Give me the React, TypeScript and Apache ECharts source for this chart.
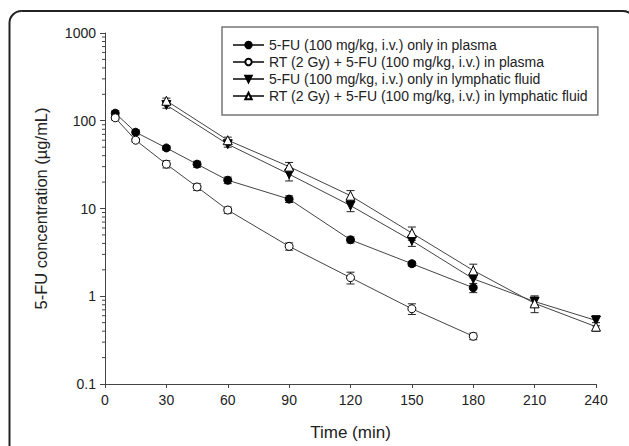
import React, { useEffect, useRef } from "react";
import * as echarts from "echarts";

const seriesNames = [
  "5-FU (100 mg/kg, i.v.) only in plasma",
  "RT (2 Gy) + 5-FU (100 mg/kg, i.v.) in plasma",
  "5-FU (100 mg/kg, i.v.) only in lymphatic fluid",
  "RT (2 Gy) + 5-FU (100 mg/kg, i.v.) in lymphatic fluid",
];

const timePlasma = [5, 15, 30, 45, 60, 90, 120, 150, 180];
const plasma5FU = [122, 74, 49, 32, 21, 12.8, 4.4, 2.35, 1.25];
const plasma5FUErr = [8, 5, 3, 2.5, 1.8, 1.1, 0.35, 0.15, 0.15];
const plasmaRT = [108, 60, 32, 17.6, 9.6, 3.7, 1.63, 0.72, 0.35];
const plasmaRTErr = [6, 3, 3, 1.5, 0.8, 0.35, 0.25, 0.1, 0.03];

const timeLymph = [30, 60, 90, 120, 150, 180, 210, 240];
const lymph5FU = [151, 54, 24.6, 10.8, 4.3, 1.58, 0.87, 0.53];
const lymph5FUErr = [12, 4, 4, 1.6, 0.6, 0.25, 0.08, 0.07];
const lymphRT = [169, 60, 30, 14, 5.25, 1.97, 0.83, 0.45];
const lymphRTErr = [12, 5, 3.5, 2, 0.9, 0.35, 0.18, 0.05];

const xTicks = [0, 30, 60, 90, 120, 150, 180, 210, 240];
const yMinorTicks = [
  0.2, 0.3, 0.4, 0.5, 0.6, 0.7, 0.8, 0.9,
  2, 3, 4, 5, 6, 7, 8, 9,
  20, 30, 40, 50, 60, 70, 80, 90,
  200, 300, 400, 500, 600, 700, 800, 900,
];

const FONT = "Liberation Sans, Arial, sans-serif";

function pairs(xs: number[], ys: number[]) {
  return xs.map((x, i) => [x, ys[i]]);
}
function errs(xs: number[], ys: number[], es: number[]) {
  return xs.map((x, i) => [x, ys[i] - es[i], ys[i] + es[i]]);
}

export default function App() {
  const ref = useRef<HTMLDivElement>(null);
  useEffect(() => {
    document.body.style.margin = "0";
    const chart = echarts.init(ref.current!, null, { renderer: "svg" });

    const lineColor = "#444";
    const errRender = (params: any, api: any) => {
      const x = api.value(0);
      const p1 = api.coord([x, api.value(1)]);
      const p2 = api.coord([x, api.value(2)]);
      const cw = 4;
      const st = { stroke: "#222", lineWidth: 1 };
      return {
        type: "group",
        children: [
          { type: "line", shape: { x1: p1[0], y1: p1[1], x2: p2[0], y2: p2[1] }, style: st },
          { type: "line", shape: { x1: p1[0] - cw, y1: p1[1], x2: p1[0] + cw, y2: p1[1] }, style: st },
          { type: "line", shape: { x1: p2[0] - cw, y1: p2[1], x2: p2[0] + cw, y2: p2[1] }, style: st },
        ],
      };
    };
    const minorRender = (params: any, api: any) => {
      const p = api.coord([api.value(0), api.value(1)]);
      return {
        type: "line",
        shape: { x1: p[0] - 3, y1: p[1], x2: p[0], y2: p[1] },
        style: { stroke: "#444", lineWidth: 1 },
      };
    };

    const lineSeries = (name: string, data: number[][], symbol: string, fill: string, rotate: number, size: number) => ({
      type: "line",
      name,
      data,
      symbol,
      symbolSize: size,
      symbolRotate: rotate,
      showAllSymbol: true,
      z: 3,
      lineStyle: { color: lineColor, width: 1 },
      itemStyle: { color: fill, borderColor: "#000", borderWidth: 1 },
      clip: false,
    });

    chart.setOption({
      animation: false,
      grid: { left: 105, right: 33, top: 33, bottom: 59 },
      legend: {
        data: seriesNames,
        orient: "vertical",
        left: 222,
        top: 27,
        padding: [11, 10, 12, 10],
        itemGap: 3,
        itemWidth: 31,
        itemHeight: 8,
        borderColor: "#777",
        borderWidth: 1.5,
        textStyle: { fontFamily: FONT, fontSize: 14, color: "#222" },
      },
      xAxis: {
        type: "value",
        min: 0,
        max: 240,
        interval: 30,
        name: "Time (min)",
        nameLocation: "middle",
        nameGap: 40,
        nameTextStyle: { fontFamily: FONT, fontSize: 17, color: "#222" },
        axisLine: { onZero: false, lineStyle: { color: "#444", width: 1 } },
        axisTick: { length: 4, lineStyle: { color: "#444" } },
        axisLabel: { margin: 9, fontFamily: FONT, fontSize: 14, color: "#222" },
        splitLine: { show: false },
      },
      yAxis: {
        type: "log",
        logBase: 10,
        min: 0.1,
        max: 1000,
        name: "5-FU concentration (µg/mL)",
        nameLocation: "middle",
        nameGap: 56,
        nameTextStyle: { fontFamily: FONT, fontSize: 16.5, color: "#222" },
        axisLine: { show: true, onZero: false, lineStyle: { color: "#444", width: 1 } },
        axisTick: { show: true, length: 5, lineStyle: { color: "#444" } },
        axisLabel: {
          margin: 9,
          fontFamily: FONT,
          fontSize: 14,
          color: "#222",
          formatter: (v: number) => String(+v.toPrecision(3)),
        },
        splitLine: { show: false },
      },
      graphic: [
        {
          type: "rect",
          shape: { x: 9.5, y: 11, width: 625.5, height: 500, r: 12 },
          style: { fill: "none", stroke: "#222", lineWidth: 2 },
          silent: true,
        },
      ],
      series: [
        {
          type: "custom",
          renderItem: minorRender,
          data: yMinorTicks.map((v) => [xTicks[0], v]),
          clip: false,
          silent: true,
          z: 1,
        },
        { type: "custom", renderItem: errRender, data: errs(timePlasma, plasma5FU, plasma5FUErr), encode: { x: 0, y: [1, 2] }, z: 1, silent: true },
        { type: "custom", renderItem: errRender, data: errs(timePlasma, plasmaRT, plasmaRTErr), encode: { x: 0, y: [1, 2] }, z: 1, silent: true },
        { type: "custom", renderItem: errRender, data: errs(timeLymph, lymph5FU, lymph5FUErr), encode: { x: 0, y: [1, 2] }, z: 1, silent: true },
        { type: "custom", renderItem: errRender, data: errs(timeLymph, lymphRT, lymphRTErr), encode: { x: 0, y: [1, 2] }, z: 1, silent: true },
        lineSeries(seriesNames[0], pairs(timePlasma, plasma5FU), "circle", "#000", 0, 8),
        lineSeries(seriesNames[1], pairs(timePlasma, plasmaRT), "circle", "#fff", 0, 8),
        lineSeries(seriesNames[2], pairs(timeLymph, lymph5FU), "triangle", "#000", 180, 9),
        lineSeries(seriesNames[3], pairs(timeLymph, lymphRT), "triangle", "#fff", 0, 9),
      ],
    });
    return () => chart.dispose();
  }, []);
  return <div ref={ref} style={{ width: 629, height: 446 }} />;
}
